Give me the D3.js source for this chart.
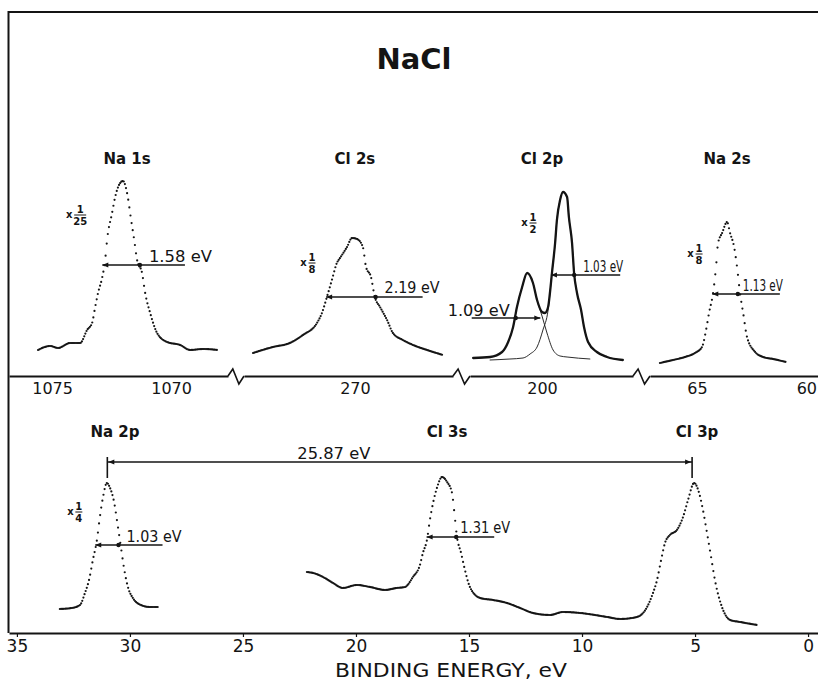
<!DOCTYPE html>
<html>
<head>
<meta charset="utf-8">
<script src="https://cdn.jsdelivr.net/npm/d3@7"></script>
<style>
  html, body { margin: 0; padding: 0; background: #fff; }
  svg { display: block; }
  text { font-family: "DejaVu Sans", "Liberation Sans", sans-serif; fill: #141414; }
</style>
</head>
<body>
<svg id="chart" width="818" height="681"></svg>
<script>
// ---------------- data ----------------
// Broken upper energy axis: one segment per core level (binding energy, eV)
const segmentIds = ["na1s", "cl2s", "cl2p", "na2s"];
const segmentDomains = [[1076.81, 1067.61], [274.91, 265.66], [203.19, 195.97], [67.08, 59.65]];
const segmentTicks = [[1075, 1070], [270], [200], [65, 60]];

// Lower (valence) energy axis
const lowerDomain = [35.35, -0.44];
const lowerTicks = [35, 30, 25, 20, 15, 10, 5, 0];

// Spectra: [binding energy (eV), scaled intensity]
const na1s = [[1075.59,13],[1075.08,15],[1074.75,14],[1074.24,16.5],[1073.82,16.5],[1073.53,23],[1073.32,26.5],
  [1073.19,34.5],[1073.07,41.5],[1072.90,49],[1072.77,58],[1072.69,68],[1072.48,81.5],[1072.35,89.5],
  [1072.14,96.5],[1072.02,97.5],[1071.85,91.5],[1071.68,78],[1071.55,68],[1071.43,58],[1071.22,51.5],
  [1071.09,41.5],[1070.88,31.5],[1070.59,21.5],[1070.17,17],[1069.62,15.5],[1069.20,13],[1068.66,13.5],[1068.03,13]];

const cl2s = [[274.51,11.5],[273.63,14.5],[272.88,16.5],[272.30,20.5],[271.68,26.5],[271.46,31.5],[271.24,39.5],
  [271.02,48],[270.80,56.5],[270.66,59],[270.35,64.5],[270.13,69],[269.91,68.5],[269.65,64.5],[269.51,54.5],
  [269.29,49.5],[269.12,39.5],[268.89,34.5],[268.58,28],[268.32,21.5],[267.88,18],[267.43,15.5],[266.81,13],[266.11,10.5]];

const cl2pTotal = [[203.05,9],[202.30,9.5],[201.77,12],[201.50,17],[201.28,24.5],[201.11,34.5],[200.88,44.5],
  [200.66,51.5],[200.40,46.5],[200.22,38],[200.00,32],[199.87,31.5],[199.73,34.5],[199.65,41.5],[199.56,51.5],
  [199.42,66.5],[199.34,78],[199.20,88],[199.07,92],[198.89,89.5],[198.81,79.5],[198.67,66.5],[198.58,51.5],
  [198.45,41.5],[198.27,33],[198.14,24.5],[197.96,17],[197.57,12],[197.12,9.5],[196.42,8]];
const cl2pHalf = [[203.05,9],[202.30,9.5],[201.77,12],[201.50,17],[201.28,24.5],[201.11,34.5],[200.88,44.5],
  [200.66,51.5],[200.40,46.5],[200.22,38],[200.00,30],[199.78,21.5],[199.51,13],[199.20,10],[198.89,9.5],[197.88,8.5]];
const cl2pThreeHalf = [[202.30,8],[201.42,8.5],[200.84,9],[200.53,11],[200.22,14.5],[199.96,23],[199.73,33],
  [199.56,51.5],[199.42,66.5],[199.34,78],[199.20,88],[199.07,92],[198.89,89.5],[198.81,79.5],[198.67,66.5],
  [198.58,51.5],[198.45,41.5],[198.27,33],[198.14,24.5],[197.96,17],[197.57,12],[197.12,9.5],[196.42,8]];

const na2s = [[66.64,6.5],[66.06,8],[65.53,9.5],[65.09,11.5],[64.78,14.5],[64.60,23],[64.47,31.5],[64.29,41.5],
  [64.16,54.5],[64.07,66.5],[63.89,71.5],[63.67,77],[63.54,71.5],[63.36,64.5],[63.23,54.5],[63.10,41.5],
  [62.96,31.5],[62.79,19.5],[62.43,12],[62.08,9.5],[61.64,8.5],[61.06,7]];

const na2p = [[33.10,12],[32.57,12.5],[32.21,14],[31.99,20],[31.81,26.5],[31.64,36.5],[31.46,46.5],[31.33,58],
  [31.19,68],[31.02,75],[30.88,72.5],[30.72,66.5],[30.53,53],[30.40,43],[30.27,33],[30.09,23],[29.87,17.5],
  [29.52,14],[29.12,13],[28.72,13]];

// Cl 3s + Cl 3p valence region, one continuous scan
const valence = [[22.17,30.5],[21.90,30],[21.46,28],[21.02,25],[20.58,22.5],[19.96,24],[19.38,23],[18.72,21.5],
  [18.19,22.5],[17.83,23],[17.48,28],[17.17,34],[17.04,40],[16.86,46.5],[16.73,56.5],[16.59,65],[16.42,72.5],
  [16.19,78],[15.97,75.5],[15.75,70],[15.66,61.5],[15.53,48],[15.35,40],[15.18,31.5],[14.96,23],[14.51,17.5],
  [13.94,16.5],[13.32,15],[12.74,12.5],[12.17,10],[11.42,9],[10.84,10.5],[10.09,10],[8.89,8],[8.32,7],[7.57,8],
  [7.12,13],[6.86,20],[6.68,26.5],[6.50,36.5],[6.33,45],[6.11,49],[5.80,51.5],[5.53,58],[5.31,66.5],[5.04,75],
  [4.82,70],[4.65,61.5],[4.47,50],[4.29,38],[4.12,26.5],[3.81,13],[3.45,6.5],[3.01,5.5],[2.26,4]];

// Level names and where they sit on the energy axes
const coreLevels = ["Na 1s", "Cl 2s", "Cl 2p", "Na 2s"];
const coreLabelEnergies = [1071.85, 270.0, 200.0, 63.67];
const valenceLevels = ["Na 2p", "Cl 3s", "Cl 3p"];
const valenceLabelEnergies = [30.66, 15.97, 4.91];

// Intensity scaling factors
const factorSpectra = ["na1s", "cl2s", "cl2p", "na2s", "na2p"];
const factorNumerators = ["1", "1", "1", "1", "1"];
const factorDenominators = ["25", "8", "2", "8", "4"];
const factorEnergies = [1073.82, 271.90, 200.40, 64.91, 32.26];
const factorIntensities = [80.5, 56.5, 76.5, 61, 60.5];

// Line widths (FWHM): spectrum, centre (eV), width (eV), half-height level
const fwhmSpectra = ["na1s", "cl2s", "cl2p", "cl2p", "na2s", "na2p", "valence"];
const fwhmCentres = [1072.1, 270.18, 199.09, 200.62, 63.76, 31.02, 16.22];
const fwhmWidths = [1.58, 2.19, 1.03, 1.09, 1.13, 1.03, 1.31];
const fwhmLevels = [55.5, 39.5, 50.5, 29, 41, 44, 48];

// Na 2p - Cl 3p separation
const splitFrom = 31.00, splitTo = 5.13, splitValue = 25.87;
const splitLevel = 85.5;

// ---------------- layout ----------------
const W = 818;
const ink = "#141414";
const svg = d3.select("#chart");
const upperAxisY = 376, lowerAxisY = 633;
const upperRanges = [[9, 228], [244, 453], [470, 633], [650, 818]];

const upperX = {};
segmentIds.forEach((id, i) => {
  upperX[id] = d3.scaleLinear().domain(segmentDomains[i]).range(upperRanges[i]);
});
const upperY = d3.scaleLinear().domain([0, 100]).range([upperAxisY, upperAxisY - 200]);
const lowerX = d3.scaleLinear().domain(lowerDomain).range([9, 818]);
const lowerY = d3.scaleLinear().domain([0, 100]).range([lowerAxisY, lowerAxisY - 200]);

const xFor = id => upperX[id] || lowerX;
const yFor = id => upperX[id] ? upperY : lowerY;

// keep tick labels inside the right edge
function keepInside(g) {
  g.selectAll(".tick").each(function () {
    const t = d3.select(this).select("text");
    const box = t.node().getBBox();
    const tx = +d3.select(this).attr("transform").match(/translate\(([-\d.]+)/)[1];
    const overflow = tx + box.x + box.width - (W - 1);
    if (overflow > 0) t.attr("x", -overflow);
  });
}

// frame (top and left edges)
svg.append("path")
  .attr("d", `M8.5,${lowerAxisY} V12 H818`)
  .attr("fill", "none").attr("stroke", ink).attr("stroke-width", 2);

// title
svg.append("text").attr("x", 414).attr("y", 69).attr("text-anchor", "middle")
  .attr("font-weight", "bold").attr("font-size", 29).text("NaCl");

// upper broken axis
segmentIds.forEach((id, i) => {
  const ax = d3.axisBottom(upperX[id]).tickValues(segmentTicks[i])
    .tickSize(0).tickSizeOuter(0).tickPadding(7).tickFormat(d3.format("d"));
  const g = svg.append("g").attr("transform", `translate(0,${upperAxisY})`).call(ax);
  g.select(".domain").attr("stroke", ink).attr("stroke-width", 2);
  g.selectAll("text").attr("font-size", 16).attr("font-family", "DejaVu Sans").attr("fill", ink);
  keepInside(g);
});
// break marks between segments
for (let i = 0; i < upperRanges.length - 1; i++) {
  const a = upperRanges[i][1], b = upperRanges[i + 1][0], w = b - a, y = upperAxisY;
  svg.append("path")
    .attr("d", `M${a},${y} L${a + w * 0.3},${y - 7} L${a + w * 0.68},${y + 8} L${b},${y}`)
    .attr("fill", "none").attr("stroke", ink).attr("stroke-width", 1.6).attr("stroke-linejoin", "miter");
}

// lower axis
{
  const ax = d3.axisBottom(lowerX).tickValues(lowerTicks).tickSize(4).tickSizeOuter(0).tickPadding(3);
  const g = svg.append("g").attr("transform", `translate(0,${lowerAxisY})`).call(ax);
  g.select(".domain").attr("stroke", ink).attr("stroke-width", 2);
  g.selectAll(".tick line").attr("stroke", ink).attr("stroke-width", 1.2);
  g.selectAll("text").attr("font-size", 17).attr("font-family", "DejaVu Sans").attr("fill", ink);
  keepInside(g);
}
svg.append("text").attr("x", 335).attr("y", 677).attr("font-size", 20)
  .attr("textLength", 232).attr("lengthAdjust", "spacingAndGlyphs")
  .text("BINDING ENERGY,  eV");

// level names
coreLevels.forEach((t, i) => {
  svg.append("text").attr("x", upperX[segmentIds[i]](coreLabelEnergies[i])).attr("y", 164)
    .attr("text-anchor", "middle").attr("font-weight", "bold").attr("font-size", 15).text(t);
});
valenceLevels.forEach((t, i) => {
  svg.append("text").attr("x", lowerX(valenceLabelEnergies[i])).attr("y", 437)
    .attr("text-anchor", "middle").attr("font-weight", "bold").attr("font-size", 15).text(t);
});

// ---- spectra ----
// Scan points are plotted as dots evenly spaced along the energy axis,
// so steep flanks open up into dotted lines while the background stays solid.
function dottedTrace(data, xs, ys, step, r) {
  const pts = data.map(d => [xs(d[0]), ys(d[1])]).sort((a, b) => a[0] - b[0]);
  const g = svg.append("g");
  const path = g.append("path").attr("d", d3.line().curve(d3.curveMonotoneX)(pts))
    .attr("fill", "none").attr("stroke", "none");
  const node = path.node(), L = node.getTotalLength();
  const dots = [];
  let last = -1e9;
  for (let s = 0; s <= L; s += 0.2) {
    const p = node.getPointAtLength(s);
    if (p.x - last >= step) { dots.push([p.x, p.y]); last = p.x; }
  }
  g.selectAll("circle").data(dots).join("circle")
    .attr("cx", d => d[0]).attr("cy", d => d[1]).attr("r", r).attr("fill", ink);
}
function solidTrace(data, xs, ys, width) {
  const pts = data.map(d => [xs(d[0]), ys(d[1])]).sort((a, b) => a[0] - b[0]);
  svg.append("path").attr("d", d3.line().curve(d3.curveMonotoneX)(pts))
    .attr("fill", "none").attr("stroke", ink).attr("stroke-width", width)
    .attr("stroke-linejoin", "round").attr("stroke-linecap", "round");
}

dottedTrace(na1s, upperX.na1s, upperY, 1.1, 1.1);
dottedTrace(cl2s, upperX.cl2s, upperY, 1.1, 1.1);
dottedTrace(na2s, upperX.na2s, upperY, 1.1, 1.1);
solidTrace(cl2pHalf, upperX.cl2p, upperY, 0.9);
solidTrace(cl2pThreeHalf, upperX.cl2p, upperY, 0.9);
solidTrace(cl2pTotal, upperX.cl2p, upperY, 2.3);
dottedTrace(na2p, lowerX, lowerY, 1.1, 1.1);
dottedTrace(valence, lowerX, lowerY, 1.1, 1.1);

// ---- intensity factors  (x 1/n) ----
factorSpectra.forEach((id, i) => {
  const x = xFor(id)(factorEnergies[i]), y = yFor(id)(factorIntensities[i]);
  const half = factorDenominators[i].length > 1 ? 6 : 3.5;
  const g = svg.append("g").attr("transform", `translate(${x},${y})`);
  g.append("text").attr("x", -half - 5).attr("y", 3).attr("text-anchor", "middle")
    .attr("font-size", 10).attr("font-weight", "bold").text("x");
  g.append("line").attr("x1", -half).attr("x2", half).attr("y1", 0).attr("y2", 0)
    .attr("stroke", ink).attr("stroke-width", 1);
  g.append("text").attr("x", 0).attr("y", -2).attr("text-anchor", "middle")
    .attr("font-size", 10).attr("font-weight", "bold").text(factorNumerators[i]);
  g.append("text").attr("x", 0).attr("y", 10).attr("text-anchor", "middle")
    .attr("font-size", 10).attr("font-weight", "bold").text(factorDenominators[i]);
});

// ---- FWHM markers ----
// side: which way the leader runs to its label; ext: leader length past the peak (px)
const fwhmLayout = [
  { side: "right", ext: 45, dx: 9,  dy: -3, len: 63 },
  { side: "right", ext: 47, dx: 9,  dy: -4, len: 55 },
  { side: "right", ext: 46, dx: 9,  dy: -3, len: 40 },
  { side: "left",  ext: 44, dx: -6, dy: -2, len: 62 },
  { side: "right", ext: 42, dx: 5,  dy: -3, len: 40 },
  { side: "right", ext: 44, dx: 8,  dy: -3, len: 55 },
  { side: "right", ext: 38, dx: 4,  dy: -4, len: 50 }
];
function arrowHead(x, y, dir) {
  svg.append("path")
    .attr("d", `M${x},${y} L${x - dir * 6},${y - 2.4} L${x - dir * 6},${y + 2.4} Z`)
    .attr("fill", ink);
}
fwhmSpectra.forEach((id, i) => {
  const xs = xFor(id), ys = yFor(id), lay = fwhmLayout[i];
  const xL = xs(fwhmCentres[i] + fwhmWidths[i] / 2);
  const xR = xs(fwhmCentres[i] - fwhmWidths[i] / 2);
  const y = ys(fwhmLevels[i]);
  const label = d3.format(".2f")(fwhmWidths[i]) + " eV";
  if (lay.side === "right") {
    svg.append("line").attr("x1", xL).attr("x2", xR + lay.ext).attr("y1", y).attr("y2", y)
      .attr("stroke", ink).attr("stroke-width", 1.4);
    arrowHead(xL, y, -1);
    svg.append("circle").attr("cx", xR).attr("cy", y).attr("r", 2.2).attr("fill", ink);
    svg.append("text").attr("x", xR + lay.dx).attr("y", y + lay.dy).attr("font-size", 15)
      .attr("textLength", lay.len).attr("lengthAdjust", "spacingAndGlyphs").text(label);
  } else {
    svg.append("line").attr("x1", xL - lay.ext).attr("x2", xR).attr("y1", y).attr("y2", y)
      .attr("stroke", ink).attr("stroke-width", 1.4);
    arrowHead(xR, y, 1);
    svg.append("circle").attr("cx", xL).attr("cy", y).attr("r", 2.2).attr("fill", ink);
    svg.append("text").attr("x", xL + lay.dx).attr("y", y + lay.dy).attr("font-size", 15)
      .attr("text-anchor", "end")
      .attr("textLength", lay.len).attr("lengthAdjust", "spacingAndGlyphs").text(label);
  }
});

// ---- Na 2p – Cl 3p separation ----
{
  const x1 = lowerX(splitFrom), x2 = lowerX(splitTo), y = lowerY(splitLevel);
  svg.append("line").attr("x1", x1).attr("x2", x2).attr("y1", y).attr("y2", y)
    .attr("stroke", ink).attr("stroke-width", 1.4);
  [x1, x2].forEach(x => {
    svg.append("line").attr("x1", x).attr("x2", x).attr("y1", y - 5).attr("y2", y + 16)
      .attr("stroke", ink).attr("stroke-width", 1.6);
  });
  arrowHead(x1 + 1, y, -1);
  arrowHead(x2 - 1, y, 1);
  svg.append("text").attr("x", x1 + 190).attr("y", y - 3).attr("font-size", 16)
    .attr("textLength", 73).attr("lengthAdjust", "spacingAndGlyphs")
    .text(d3.format(".2f")(splitValue) + " eV");
}
</script>
</body>
</html>
